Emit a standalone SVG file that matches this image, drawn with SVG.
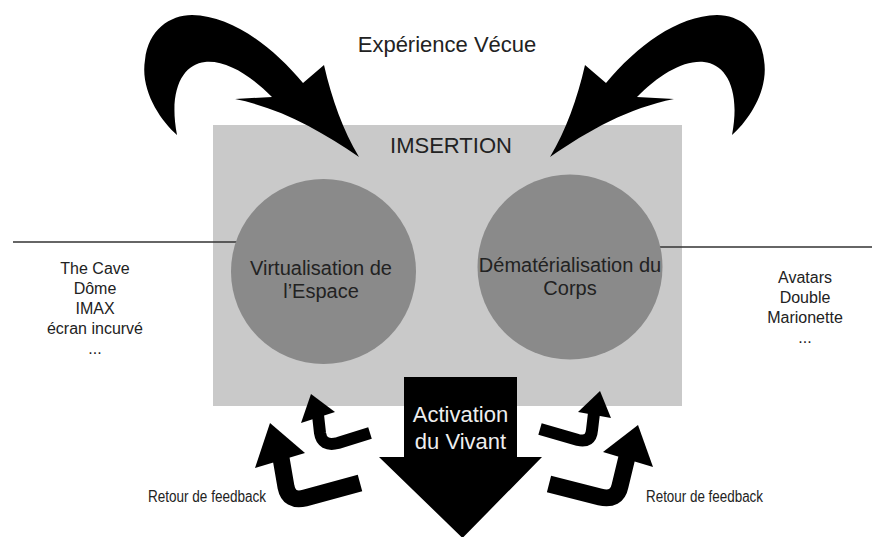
<svg xmlns="http://www.w3.org/2000/svg" width="872" height="537" viewBox="0 0 872 537">
<style>
.t{font-family:"Liberation Sans",Arial,sans-serif;fill:#222;text-anchor:middle}
.big{font-size:22px}
.mid{font-size:20px}
.sm{font-size:16px}
.fb{font-size:16px}
.circ{fill:#8a8a8a}
.sh{fill:none;stroke:#000;stroke-linecap:butt;stroke-linejoin:round}
.ln{stroke:#333;stroke-width:1.5}
</style>
<defs>
<path id="curve" d="M 177 135 C 160 120, 140 90, 145 60 C 148 30, 170 15, 192 15 C 232 16, 272 46, 303 83 L 324 65 C 332 100, 343 130, 359 157 C 320 130, 280 108, 235 99 L 272 97 C 250 75, 226 60, 205 62 C 184 64, 168 88, 177 135 Z"/>
</defs>
<rect width="872" height="537" fill="#fff"/>
<g id="imsertion">
<rect x="213" y="125" width="469" height="281" fill="#c9c9c9"/>
<text class="t big" x="451" y="153">IMSERTION</text>
</g>
<g id="experience">
<text class="t big" x="447" y="52">Expérience Vécue</text>
</g>
<g id="connectors">
<use href="#curve"/>
<use href="#curve" transform="translate(909,0) scale(-1,1)"/>
<line class="ln" x1="13" y1="242" x2="261" y2="242"/>
<line class="ln" x1="635" y1="247" x2="872" y2="247"/>
<path class="sh" stroke-width="12" d="M 370 433 L 338 443 Q 322 447 320 433 L 318 415"/>
<polygon points="311,394 301,423 335,412"/>
<path class="sh" stroke-width="17" d="M 360 483 L 305 498 Q 289 502 286 487 L 281 458"/>
<polygon points="270,423 255,468 305,453"/>
<path class="sh" stroke-width="12" d="M 540 429 L 578 440 Q 591 443 592 430 L 594 413"/>
<polygon points="600,391 578,412 611,418"/>
<path class="sh" stroke-width="17" d="M 549 484 L 600 497 Q 617 501 620 486 L 627 457"/>
<polygon points="638,425 603,452 653,467"/>
</g>
<g id="virtualisation">
<circle class="circ" cx="323.5" cy="271.5" r="92.5"/>
<text class="t mid" x="321" y="275">Virtualisation de</text>
<text class="t mid" x="321" y="298">l’Espace</text>
</g>
<g id="dematerialisation">
<circle class="circ" cx="570" cy="267" r="92.5"/>
<text class="t mid" x="570" y="272">Dématérialisation du</text>
<text class="t mid" x="570" y="295">Corps</text>
</g>
<g id="activation">
<polygon points="404,377 517,377 517,457 542,457 462.5,538 379,457 404,457" fill="#000"/>
<text class="t big" x="460.5" y="422" style="fill:#eee">Activation</text>
<text class="t big" x="460.5" y="449" style="fill:#eee">du Vivant</text>
</g>
<g id="list-left">
<text class="t sm" x="95" y="274">The Cave</text>
<text class="t sm" x="95" y="294">Dôme</text>
<text class="t sm" x="95" y="314">IMAX</text>
<text class="t sm" x="95" y="334">écran incurvé</text>
<text class="t sm" x="95" y="354">...</text>
</g>
<g id="list-right">
<text class="t sm" x="805" y="283">Avatars</text>
<text class="t sm" x="805" y="303">Double</text>
<text class="t sm" x="805" y="323">Marionette</text>
<text class="t sm" x="805" y="343">...</text>
</g>
<g id="feedback-left">
<text class="t fb" x="207" y="502" textLength="118" lengthAdjust="spacingAndGlyphs">Retour de feedback</text>
</g>
<g id="feedback-right">
<text class="t fb" x="704.5" y="502" textLength="117" lengthAdjust="spacingAndGlyphs">Retour de feedback</text>
</g>
</svg>
